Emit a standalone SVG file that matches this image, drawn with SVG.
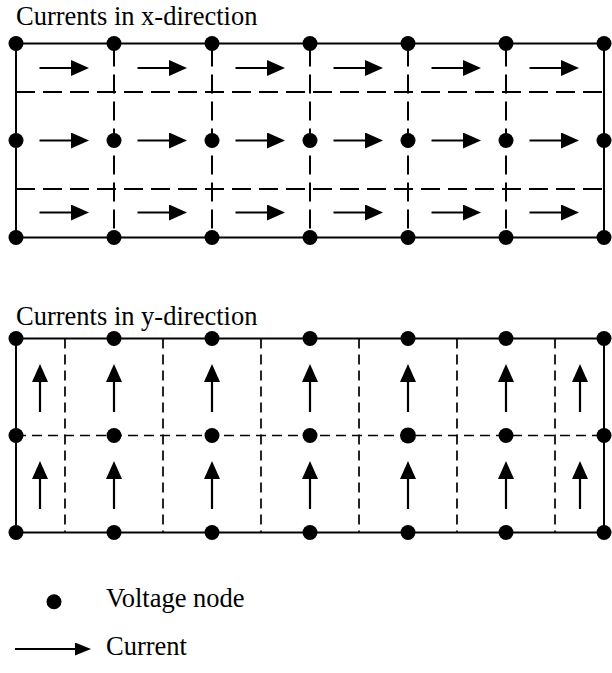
<svg xmlns="http://www.w3.org/2000/svg" width="612" height="673" viewBox="0 0 612 673">
<style>
text{font-family:"Liberation Serif","Times New Roman",Times,serif;font-size:26.5px;fill:#000}
.frame{fill:none;stroke:#000;stroke-width:2}
.dl{fill:none;stroke:#000;stroke-width:2;stroke-dasharray:19 8}
.ds{fill:none;stroke:#000;stroke-width:1.7;stroke-dasharray:10 6}
.cur{fill:none;stroke:#000;stroke-width:2.2;marker-end:url(#ah)}
.n{fill:#000}
</style>
<defs>
<marker id="ah" viewBox="0 0 18 16" refX="8" refY="8" markerWidth="18" markerHeight="16" markerUnits="userSpaceOnUse" orient="auto">
<path d="M0,0 L18,8 L0,16 z" fill="#000"/>
</marker>
<marker id="ahl" viewBox="0 0 16 13" refX="6" refY="6.5" markerWidth="16" markerHeight="13" markerUnits="userSpaceOnUse" orient="auto">
<path d="M0,0 L16,6.5 L0,13 z" fill="#000"/>
</marker>
</defs>

<text x="16" y="25" font-family="Liberation Serif, serif">Currents in x-direction</text>
<text x="16" y="325" font-family="Liberation Serif, serif">Currents in y-direction</text>

<g id="grid-x">
<rect class="frame" x="16" y="43.5" width="588" height="194"/>
<path class="dl" d="M16,92H604M16,189H604"/>
<path class="dl" style="stroke-dashoffset:-4" d="M114,43.5V237.5M212,43.5V237.5M310,43.5V237.5M408,43.5V237.5M506,43.5V237.5"/>
</g>

<g id="grid-y">
<rect class="frame" x="16" y="338.5" width="588" height="194"/>
<path class="ds" d="M16,435.5H604"/>
<path class="ds" d="M65,338.5V532.5M163,338.5V532.5M261,338.5V532.5M359,338.5V532.5M457,338.5V532.5M555,338.5V532.5"/>
</g>

<g id="connectors">
<path class="cur" d="M39.5,68H79"/>
<path class="cur" d="M137.5,68H177"/>
<path class="cur" d="M235.5,68H275"/>
<path class="cur" d="M333.5,68H373"/>
<path class="cur" d="M431.5,68H471"/>
<path class="cur" d="M529.5,68H569"/>
<path class="cur" d="M39.5,140.5H79"/>
<path class="cur" d="M137.5,140.5H177"/>
<path class="cur" d="M235.5,140.5H275"/>
<path class="cur" d="M333.5,140.5H373"/>
<path class="cur" d="M431.5,140.5H471"/>
<path class="cur" d="M529.5,140.5H569"/>
<path class="cur" d="M39.5,212.5H79"/>
<path class="cur" d="M137.5,212.5H177"/>
<path class="cur" d="M235.5,212.5H275"/>
<path class="cur" d="M333.5,212.5H373"/>
<path class="cur" d="M431.5,212.5H471"/>
<path class="cur" d="M529.5,212.5H569"/>
<path class="cur" d="M40,412V374"/>
<path class="cur" d="M114,412V374"/>
<path class="cur" d="M212,412V374"/>
<path class="cur" d="M310,412V374"/>
<path class="cur" d="M408,412V374"/>
<path class="cur" d="M506,412V374"/>
<path class="cur" d="M580,412V374"/>
<path class="cur" d="M40,509V471"/>
<path class="cur" d="M114,509V471"/>
<path class="cur" d="M212,509V471"/>
<path class="cur" d="M310,509V471"/>
<path class="cur" d="M408,509V471"/>
<path class="cur" d="M506,509V471"/>
<path class="cur" d="M580,509V471"/>
</g>

<g id="nodes-x">
<g id="nx-0-0"><circle class="n" cx="16" cy="43.5" r="7.5"/></g>
<g id="nx-1-0"><circle class="n" cx="114" cy="43.5" r="7.5"/></g>
<g id="nx-2-0"><circle class="n" cx="212" cy="43.5" r="7.5"/></g>
<g id="nx-3-0"><circle class="n" cx="310" cy="43.5" r="7.5"/></g>
<g id="nx-4-0"><circle class="n" cx="408" cy="43.5" r="7.5"/></g>
<g id="nx-5-0"><circle class="n" cx="506" cy="43.5" r="7.5"/></g>
<g id="nx-6-0"><circle class="n" cx="604" cy="43.5" r="7.5"/></g>
<g id="nx-0-1"><circle class="n" cx="16" cy="140.5" r="7.5"/></g>
<g id="nx-1-1"><circle class="n" cx="114" cy="140.5" r="7.5"/></g>
<g id="nx-2-1"><circle class="n" cx="212" cy="140.5" r="7.5"/></g>
<g id="nx-3-1"><circle class="n" cx="310" cy="140.5" r="7.5"/></g>
<g id="nx-4-1"><circle class="n" cx="408" cy="140.5" r="7.5"/></g>
<g id="nx-5-1"><circle class="n" cx="506" cy="140.5" r="7.5"/></g>
<g id="nx-6-1"><circle class="n" cx="604" cy="140.5" r="7.5"/></g>
<g id="nx-0-2"><circle class="n" cx="16" cy="237.5" r="7.5"/></g>
<g id="nx-1-2"><circle class="n" cx="114" cy="237.5" r="7.5"/></g>
<g id="nx-2-2"><circle class="n" cx="212" cy="237.5" r="7.5"/></g>
<g id="nx-3-2"><circle class="n" cx="310" cy="237.5" r="7.5"/></g>
<g id="nx-4-2"><circle class="n" cx="408" cy="237.5" r="7.5"/></g>
<g id="nx-5-2"><circle class="n" cx="506" cy="237.5" r="7.5"/></g>
<g id="nx-6-2"><circle class="n" cx="604" cy="237.5" r="7.5"/></g>
</g>

<g id="nodes-y">
<g id="ny-0-0"><circle class="n" cx="16" cy="338.5" r="7.5"/></g>
<g id="ny-1-0"><circle class="n" cx="114" cy="338.5" r="7.5"/></g>
<g id="ny-2-0"><circle class="n" cx="212" cy="338.5" r="7.5"/></g>
<g id="ny-3-0"><circle class="n" cx="310" cy="338.5" r="7.5"/></g>
<g id="ny-4-0"><circle class="n" cx="408" cy="338.5" r="7.5"/></g>
<g id="ny-5-0"><circle class="n" cx="506" cy="338.5" r="7.5"/></g>
<g id="ny-6-0"><circle class="n" cx="604" cy="338.5" r="7.5"/></g>
<g id="ny-0-1"><circle class="n" cx="16" cy="435.5" r="7.5"/></g>
<g id="ny-1-1"><circle class="n" cx="114" cy="435.5" r="7.5"/></g>
<g id="ny-2-1"><circle class="n" cx="212" cy="435.5" r="7.5"/></g>
<g id="ny-3-1"><circle class="n" cx="310" cy="435.5" r="7.5"/></g>
<g id="ny-4-1"><circle class="n" cx="408" cy="435.5" r="8"/></g>
<g id="ny-5-1"><circle class="n" cx="506" cy="435.5" r="7.5"/></g>
<g id="ny-6-1"><circle class="n" cx="604" cy="435.5" r="7.5"/></g>
<g id="ny-0-2"><circle class="n" cx="16" cy="532.5" r="7.5"/></g>
<g id="ny-1-2"><circle class="n" cx="114" cy="532.5" r="7.5"/></g>
<g id="ny-2-2"><circle class="n" cx="212" cy="532.5" r="7.5"/></g>
<g id="ny-3-2"><circle class="n" cx="310" cy="532.5" r="7.5"/></g>
<g id="ny-4-2"><circle class="n" cx="408" cy="532.5" r="7.5"/></g>
<g id="ny-5-2"><circle class="n" cx="506" cy="532.5" r="7.5"/></g>
<g id="ny-6-2"><circle class="n" cx="604" cy="532.5" r="7.5"/></g>
</g>

<g id="legend">
<g id="legend-node"><circle class="n" cx="54" cy="601.7" r="7.5"/></g>
<text x="106" y="607" font-family="Liberation Serif, serif">Voltage node</text>
<path d="M15,649H81" fill="none" stroke="#000" stroke-width="2" marker-end="url(#ahl)"/>
<text x="106" y="655" font-family="Liberation Serif, serif">Current</text>
</g>
</svg>
